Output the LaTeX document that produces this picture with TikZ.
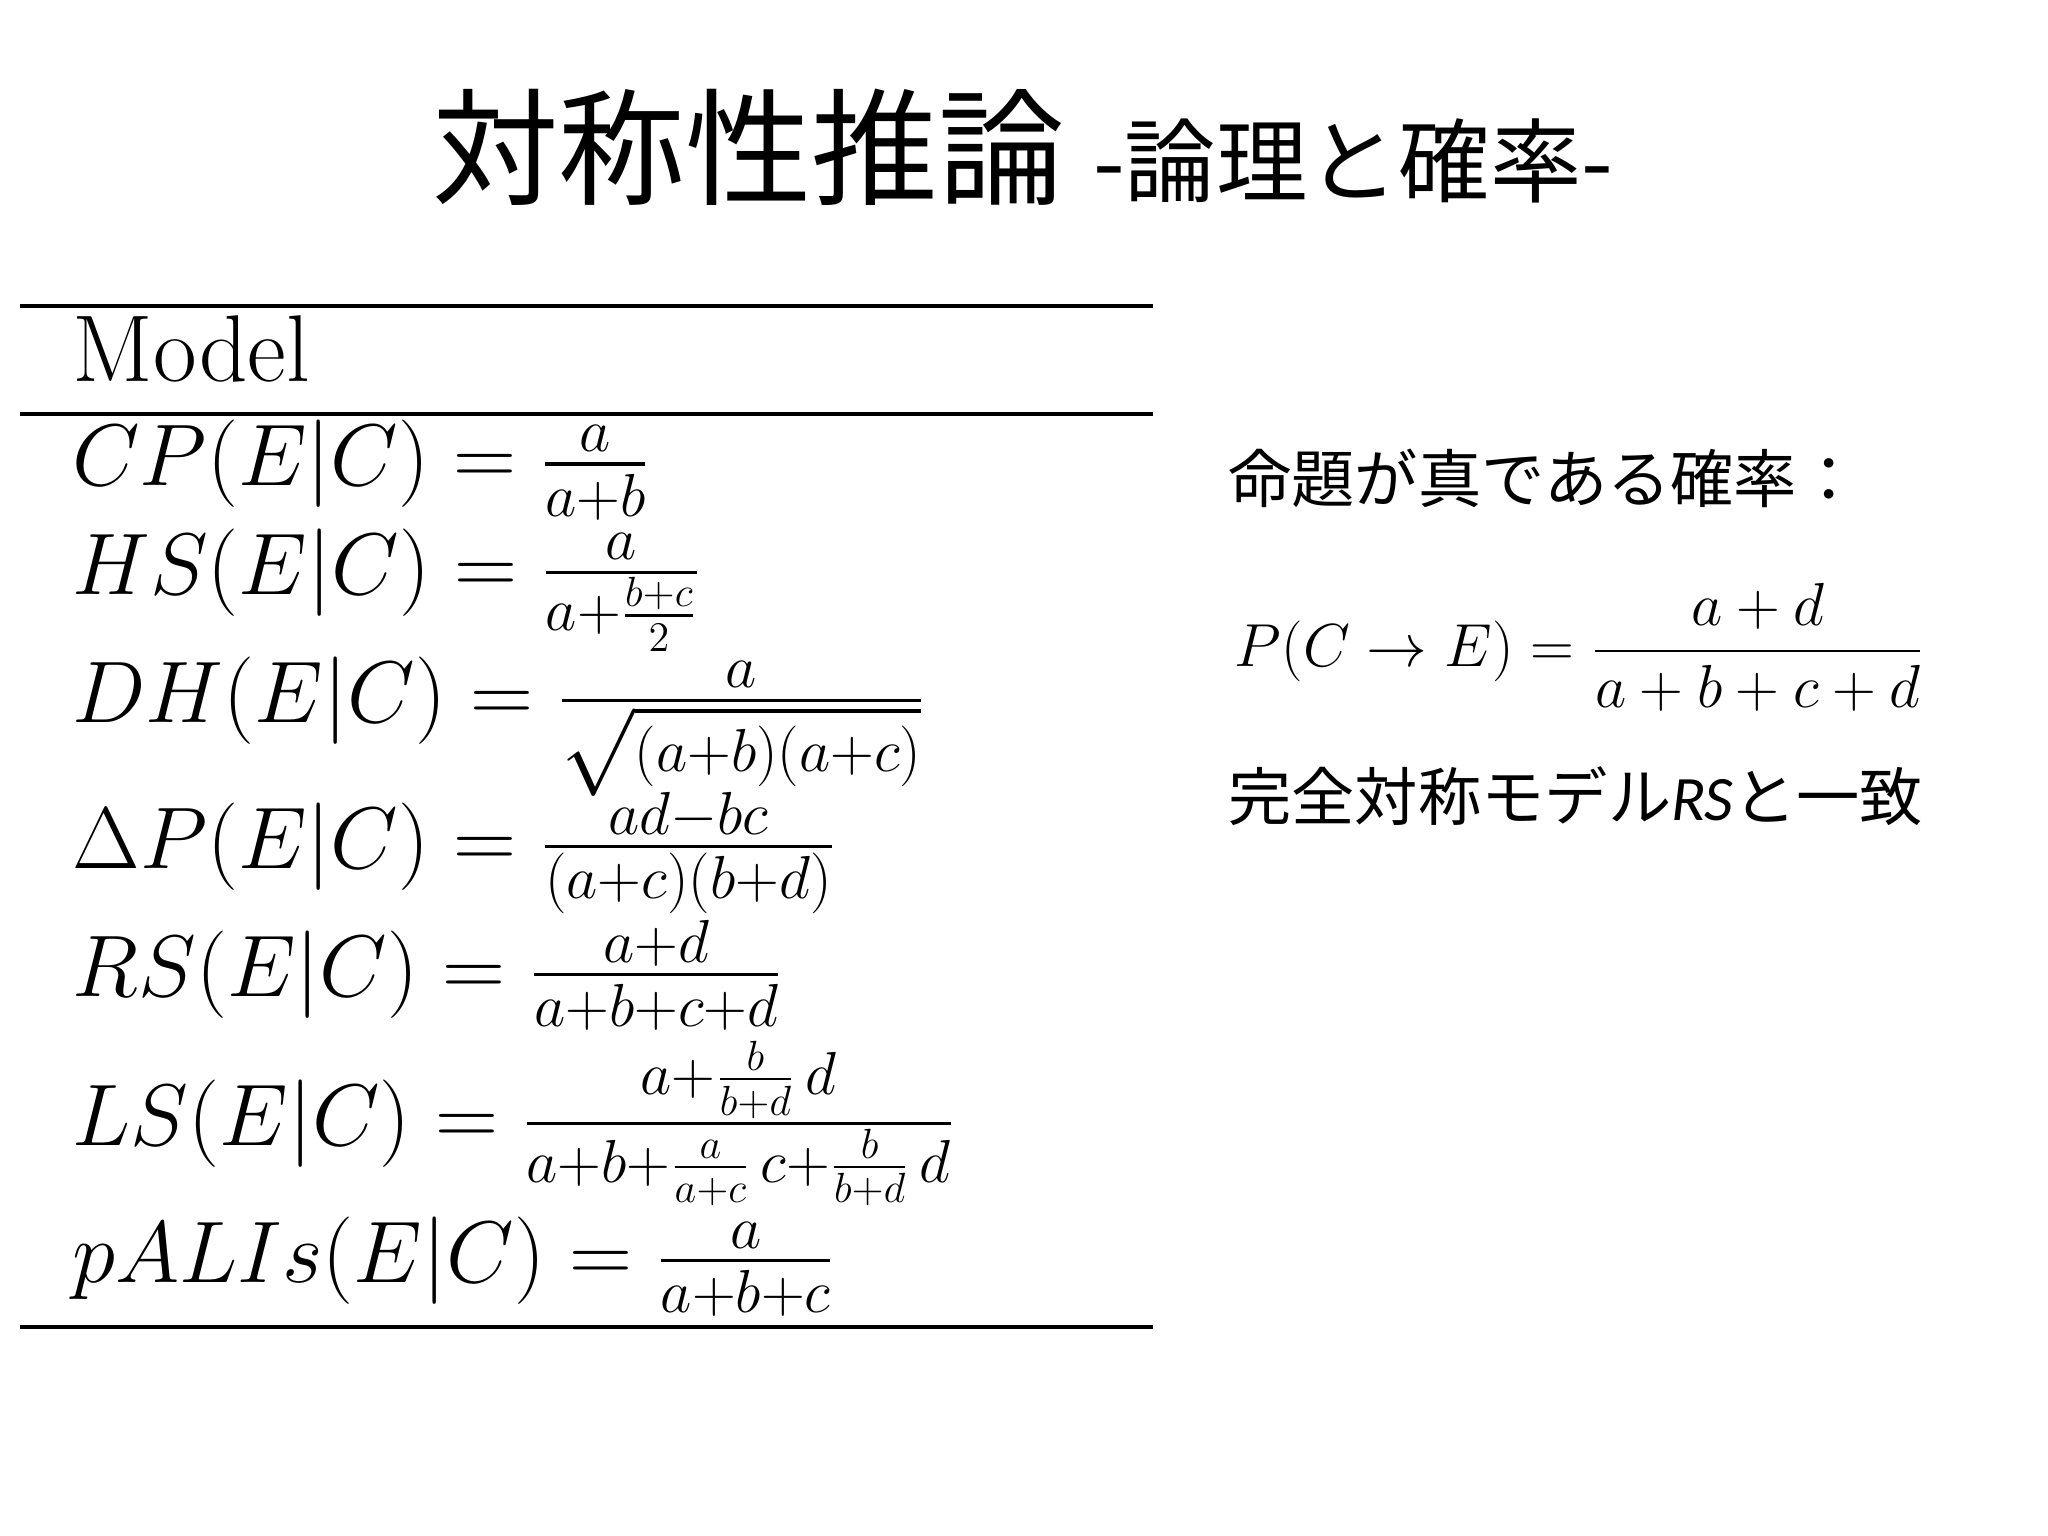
\documentclass[tikz,border=0pt]{standalone}
\usepackage{amsmath}
\usepackage{fontspec}
\newfontfamily\cjk{Noto Sans CJK JP}
\newfontfamily\carl{Carlito}
\begin{document}
\begin{tikzpicture}[x=0.01306cm,y=-0.01306cm,
  eq/.style={anchor=base west,inner sep=0pt,font=\fontsize{23.5}{28}\selectfont},
  jp/.style={anchor=base west,inner sep=0pt,font=\cjk\fontsize{18}{22}\selectfont},
  rule/.style={line width=1.2pt}]
\useasboundingbox (0,0) rectangle (1568,1176);
\node[anchor=base,inner sep=0pt] (title) at (783,150) {\cjk\fontsize{36}{40}\selectfont 対称性推論 {\fontsize{26}{30}\selectfont -論理と確率-}};
\coordinate (t1a) at (15,234); \coordinate (t1b) at (883,234);
\coordinate (t2a) at (15,317); \coordinate (t2b) at (883,317);
\coordinate (t3a) at (15,1016); \coordinate (t3b) at (883,1016);
\draw[rule] (t1a) -- (t1b);
\draw[rule] (t2a) -- (t2b);
\draw[rule] (t3a) -- (t3b);
\node[anchor=base west,inner sep=0pt,font=\fontsize{27}{32}\selectfont] (model) at (55,292) {Model};
\node[eq] (cp) at (55,372) {$CP(E|C)=\frac{a}{a+b}$};
\node[eq] (hs) at (55,455) {$HS(E|C)=\frac{a}{a+\frac{b+c}{2}}$};
\node[eq] (dh) at (55,553) {$DH(E|C)=\frac{a}{\sqrt{(a+b)(a+c)}}$};
\node[eq] (dp) at (55,665) {$\Delta P(E|C)=\frac{ad-bc}{(a+c)(b+d)}$};
\node[eq] (rs) at (55,763) {$RS(E|C)=\frac{a+d}{a+b+c+d}$};
\node[eq] (ls) at (55,877) {$LS(E|C)=\frac{a+\frac{b}{b+d}\,d}{a+b+\frac{a}{a+c}\,c+\frac{b}{b+d}\,d}$};
\node[eq] (pa) at (55,982) {$pALIs(E|C)=\frac{a}{a+b+c}$};
\node[jp] (j1) at (940,385) {命題が真である確率：};
\node[eq,font=\fontsize{17.8}{22}\selectfont] (pf) at (945,510) {$P(C\rightarrow E)=\dfrac{a+d}{a+b+c+d}$};
\node[jp] (j2) at (940,628) {完全対称モデル{\carl\itshape RS}と一致};
\end{tikzpicture}
\end{document}
